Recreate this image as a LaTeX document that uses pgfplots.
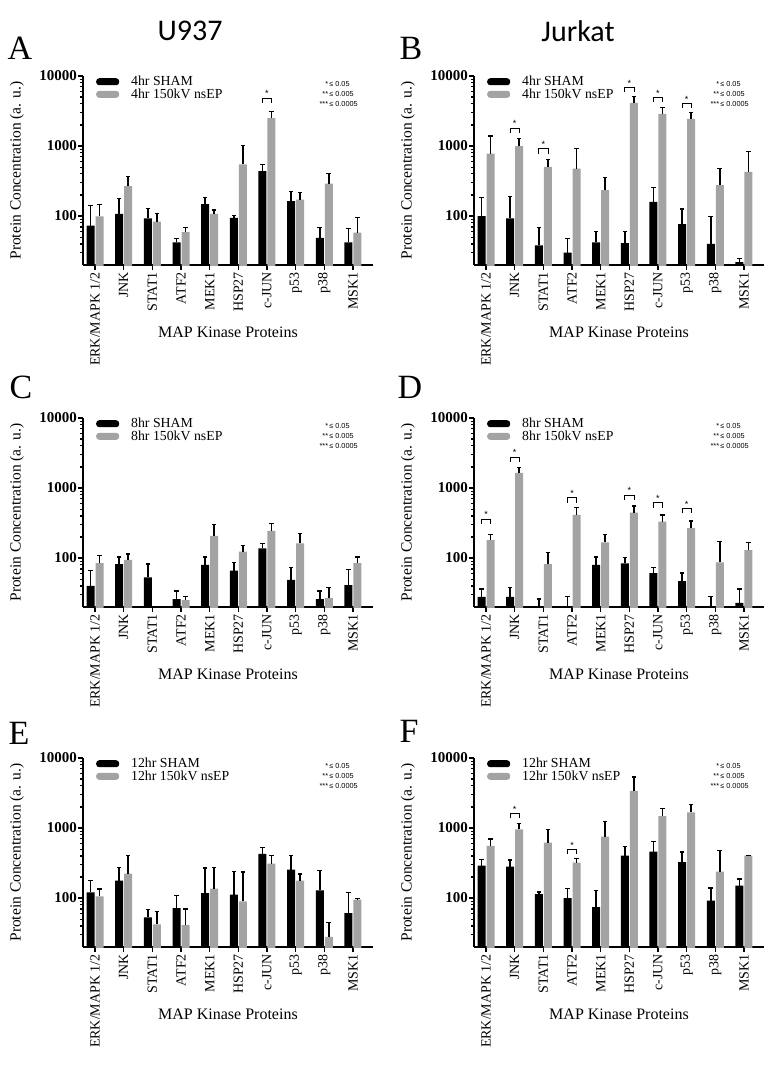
\documentclass[border=0pt]{standalone}
\usepackage{fontspec}
\setmainfont{Liberation Serif}
\newfontfamily\sansf{Liberation Sans}
\newfontfamily\calib{Carlito}
\usepackage{pgfplots}
\usepackage{pgfplotstable}
\pgfplotsset{compat=1.18}
\definecolor{bargray}{RGB}{163,163,163}

% columns: x, sham value, sham error (upward), nsEP value, nsEP error (upward)
\pgfplotstableread{
x s se g ge
0 73 67 99 47
1 107 71 267 104
2 93 34 83 26
3 42 6 59 9
4 148 36 107 15
5 94 9 548 473
6 437 106 2500 612
7 163 63 172 47
8 49 20 291 113
9 42 25 58 37
}\dataA
\pgfplotstableread{
x s se g ge
0 100 82 778 609
1 93 99 1000 271
2 38 30 503 137
3 30 18 476 440
4 42 18 234 125
5 41 19 4130 1010
6 160 96 2883 665
7 77 49 2448 595
8 40 58 276 200
9 22 3 427 403
}\dataB
\pgfplotstableread{
x s se g ge
0 40 27 85 23
1 82 22 94 20
2 53 29 1 0
3 26 8 25 3
4 80 24 208 92
5 66 21 124 26
6 137 25 245 66
7 49 25 162 62
8 26 8 27 11
9 41 27 85 19
}\dataC
\pgfplotstableread{
x s se g ge
0 28 8 180 39
1 28 10 1652 294
2 15 11 82 38
3 15 13 413 112
4 80 24 167 48
5 84 18 446 108
6 61 13 332 81
7 47 14 267 72
8 15 13 87 85
9 23 13 130 37
}\dataD
\pgfplotstableread{
x s se g ge
0 121 56 106 29
1 177 99 223 187
2 53 15 42 22
3 72 37 41 29
4 118 152 136 138
5 112 129 90 146
6 428 105 311 94
7 255 155 177 44
8 129 118 28 17
9 61 60 95 3
}\dataE
\pgfplotstableread{
x s se g ge
0 291 68 555 143
1 282 69 957 207
2 114 8 618 339
3 100 36 321 49
4 74 55 753 500
5 404 140 3396 1974
6 461 180 1483 400
7 325 128 1671 520
8 92 47 239 237
9 150 38 404 2
}\dataF

\pgfplotsset{every axis/.append style={
    scale only axis, width=290pt, height=189pt,
    ymode=log, ymin=20, ymax=10000,
    xmin=-0.42, xmax=9.7,
    axis lines=left, axis line style={-, line width=1.6pt},
    ybar=1pt, bar width=8pt,
    xtick={0,1,2,3,4,5,6,7,8,9},
    xticklabels={ERK/MAPK 1/2,JNK,STAT1,ATF2,MEK1,HSP27,c-JUN,p53,p38,MSK1},
    xticklabel style={rotate=90, anchor=east, font=\fontsize{14}{14}\selectfont, inner sep=2pt},
    ytick={100,1000,10000}, yticklabels={100,1000,10000},
    minor ytick={30,40,50,60,70,80,90,200,300,400,500,600,700,800,900,2000,3000,4000,5000,6000,7000,8000,9000},
    yticklabel style={font=\fontsize{15}{15}\selectfont\bfseries, inner sep=1pt},
    tick align=outside, major tick length=5pt, minor tick length=3pt,
    tick style={black, line width=1.2pt},
    xlabel={MAP Kinase Proteins}, ylabel={Protein Concentration (a. u.)},
    xlabel style={at={(axis description cs:0.5,-0.3545)}, anchor=center, font=\fontsize{16}{16}\selectfont},
    ylabel style={at={(axis description cs:-0.2276,0.5)}, anchor=center, font=\fontsize{15.5}{15.5}\selectfont},
    legend cell align=left,
    legend style={at={(rel axis cs:0,1)}, anchor=north west, xshift=13pt, yshift=2pt,
      draw=none, fill=none, inner sep=0pt, row sep=-2.5pt,
      font=\fontsize{13.8}{13.8}\selectfont}
}}

\newcommand{\bars}[1]{%
\addplot[fill=black, draw=none,
  legend image code/.code={\draw[fill=black,draw=none,rounded corners=3pt] (0pt,-3.5pt) rectangle (23pt,3.5pt); \path (33pt,0pt);},
  error bars/y dir=plus, error bars/y explicit,
  error bars/error bar style={line width=1.8pt, black},
  error bars/error mark options={rotate=90, mark size=2.3pt, line width=1.3pt, black}]
  table[x=x, y=s, y error=se] {#1};
\addplot[fill=bargray, draw=none,
  legend image code/.code={\draw[fill=bargray,draw=none,rounded corners=3pt] (0pt,-3.5pt) rectangle (23pt,3.5pt); \path (33pt,0pt);},
  error bars/y dir=plus, error bars/y explicit,
  error bars/error bar style={line width=1.8pt, black},
  error bars/error mark options={rotate=90, mark size=2.3pt, line width=1.3pt, black}]
  table[x=x, y=g, y error=ge] {#1};}

\newcommand{\sig}[4]{%
  \draw[line width=0.7pt] ([yshift=-5pt]axis cs:#1,#4) -- (axis cs:#1,#4) -- (axis cs:#3,#4) -- ([yshift=-5pt]axis cs:#3,#4);
  \node[font=\sansf\fontsize{9}{9}\selectfont, inner sep=0pt, anchor=south] at ([yshift=1pt]axis cs:#2,#4) {*};}
\newcommand{\sigkey}{%
  \node[anchor=north east, inner sep=0pt, align=left, font=\sansf\fontsize{7.3}{10.3}\selectfont] at (rel axis cs:0.948,0.975)
  {\phantom{**}*\,≤ 0.05\\\phantom{*}**\,≤ 0.005\\***\,≤ 0.0005};}

\begin{document}
\begin{tikzpicture}
\useasboundingbox (0,0) rectangle (769pt,-1066pt);
\node[font=\calib\fontsize{30}{30}\selectfont] at (190pt,-31pt) {U937};
\node[font=\calib\fontsize{30}{30}\selectfont] at (578pt,-31pt) {Jurkat};
\node[font=\fontsize{34}{34}\selectfont] at (20pt,-48pt) {A};
\node[font=\fontsize{34}{34}\selectfont] at (411pt,-48pt) {B};
\node[font=\fontsize{34}{34}\selectfont] at (21pt,-387pt) {C};
\node[font=\fontsize{34}{34}\selectfont] at (410pt,-387pt) {D};
\node[font=\fontsize{34}{34}\selectfont] at (19pt,-733pt) {E};
\node[font=\fontsize{34}{34}\selectfont] at (409pt,-731pt) {F};

% A
\begin{axis}[at={(83pt,-265pt)}, anchor=south west]
\bars{\dataA}
\legend{4hr SHAM, 4hr 150kV nsEP}
\sigkey
\sig{5.84}{6}{6.16}{4860}
\end{axis}
% B
\begin{axis}[at={(474pt,-265pt)}, anchor=south west]
\bars{\dataB}
\legend{4hr SHAM, 4hr 150kV nsEP}
\sigkey
\sig{0.84}{1}{1.16}{1803}
\sig{1.84}{2}{2.16}{916}
\sig{4.84}{5}{5.16}{6900}
\sig{5.84}{6}{6.16}{4980}
\sig{6.84}{7}{7.16}{4080}
\end{axis}
% C
\begin{axis}[at={(83pt,-607pt)}, anchor=south west]
\bars{\dataC}
\legend{8hr SHAM, 8hr 150kV nsEP}
\sigkey
\end{axis}
% D
\begin{axis}[at={(474pt,-607pt)}, anchor=south west]
\bars{\dataD}
\legend{8hr SHAM, 8hr 150kV nsEP}
\sigkey
\sig{-0.16}{0}{0.16}{359}
\sig{0.84}{1}{1.16}{2760}
\sig{2.84}{3}{3.16}{729}
\sig{4.84}{5}{5.16}{794}
\sig{5.84}{6}{6.16}{618}
\sig{6.84}{7}{7.16}{514}
\end{axis}
% E
\begin{axis}[at={(83pt,-947pt)}, anchor=south west]
\bars{\dataE}
\legend{12hr SHAM, 12hr 150kV nsEP}
\sigkey
\end{axis}
% F
\begin{axis}[at={(474pt,-947pt)}, anchor=south west]
\bars{\dataF}
\legend{12hr SHAM, 12hr 150kV nsEP}
\sigkey
\sig{0.84}{1}{1.16}{1620}
\sig{2.84}{3}{3.16}{498}
\end{axis}
\end{tikzpicture}
\end{document}
